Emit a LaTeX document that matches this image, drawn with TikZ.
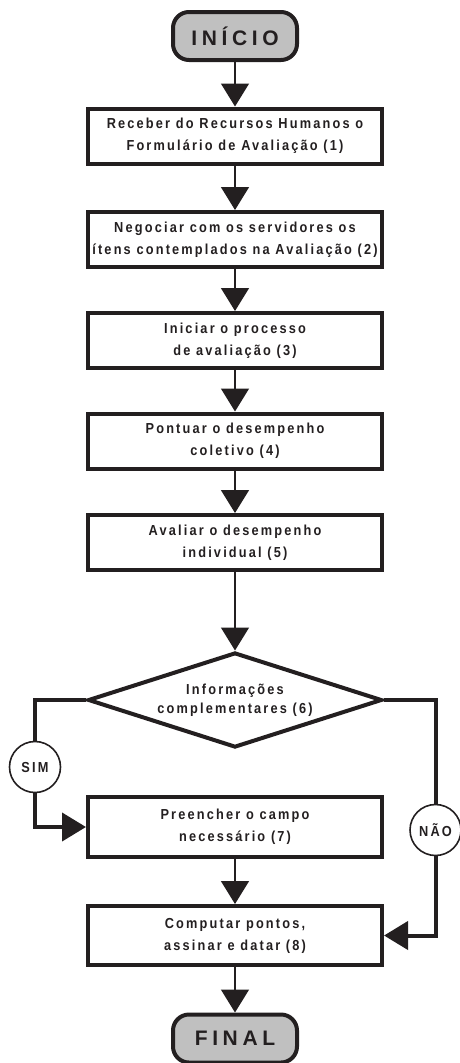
\documentclass[tikz,border=0pt]{standalone}
\usepackage{fontspec}
\setmainfont{Liberation Sans}
\newfontfamily\boxfont[LetterSpace=15,FakeStretch=0.88]{Liberation Sans}
\newfontfamily\termfont[LetterSpace=22]{Liberation Sans}
\usetikzlibrary{arrows.meta,shapes.geometric}
\definecolor{ink}{RGB}{35,31,32}
\definecolor{termgray}{RGB}{192,192,192}
\tikzset{
  proc/.style={draw=ink, line width=4pt, minimum width=294pt, minimum height=55pt,
    inner sep=0pt, align=center, text=ink,
    font=\boxfont\bfseries\fontsize{14.5}{22}\selectfont},
  term/.style={draw=ink, line width=4pt, rounded corners=16pt, fill=termgray,
    minimum width=124pt, minimum height=48pt, inner sep=0pt, text=ink,
    font=\termfont\bfseries\fontsize{21}{24}\selectfont},
  decision/.style={diamond, draw=ink, line width=4pt, minimum width=294pt,
    minimum height=95pt, aspect=3, inner sep=0pt, align=center, text=ink,
    font=\boxfont\bfseries\fontsize{14.5}{19.5}\selectfont},
  flag/.style={circle, draw=ink, line width=1.6pt, minimum size=51pt, inner sep=0pt,
    fill=white, text=ink, font=\boxfont\bfseries\fontsize{14.5}{16}\selectfont},
  link/.style={draw=ink, line width=1.5pt, -{Triangle[width=28pt,length=23pt]}},
  branch/.style={draw=ink, line width=4pt},
  brancharrow/.style={draw=ink, line width=4pt, -{Triangle[width=28pt,length=24pt]}}
}
\begin{document}
\begin{tikzpicture}[x=1pt,y=-1pt]
\useasboundingbox (0,0) rectangle (459,1063);

\node[term] (start) at (235,36) {INÍCIO};
\node[proc] (b1) at (235,136) {Receber do Recursos Humanos o\\Formulário de Avaliação (1)};
\node[proc] (b2) at (235,239.5) {Negociar com os servidores os\\ítens contemplados na Avaliação (2)};
\node[proc] (b3) at (235,340.5) {Iniciar o processo\\de avaliação (3)};
\node[proc] (b4) at (235,441) {Pontuar o desempenho\\coletivo (4)};
\node[proc] (b5) at (235,542.5) {Avaliar o desempenho\\individual (5)};
\node[decision] (dec) at (235,700) {Informações\\complementares (6)};
\node[proc, minimum height=60pt] (b7) at (235,827) {Preencher o campo\\necessário (7)};
\node[proc, minimum height=59pt] (b8) at (235,935.5) {Computar pontos,\\assinar e datar (8)};
\node[term] (stop) at (235,1038.5) {FINAL};

\node[flag] (sim) at (35,767) {SIM};
\node[flag] (nao) at (435.5,830) {NÃO};

\draw[link] (start) -- (b1);
\draw[link] (b1) -- (b2);
\draw[link] (b2) -- (b3);
\draw[link] (b3) -- (b4);
\draw[link] (b4) -- (b5);
\draw[link] (b5) -- (dec);
\draw[link] (b7) -- (b8);
\draw[link] (b8) -- (stop);

\draw[branch] (dec.west) -| (sim.north);
\draw[brancharrow] (sim.south) |- (b7.west);
\draw[branch] (dec.east) -| (nao.north);
\draw[brancharrow] (nao.south) |- (b8.east);
\end{tikzpicture}
\end{document}
